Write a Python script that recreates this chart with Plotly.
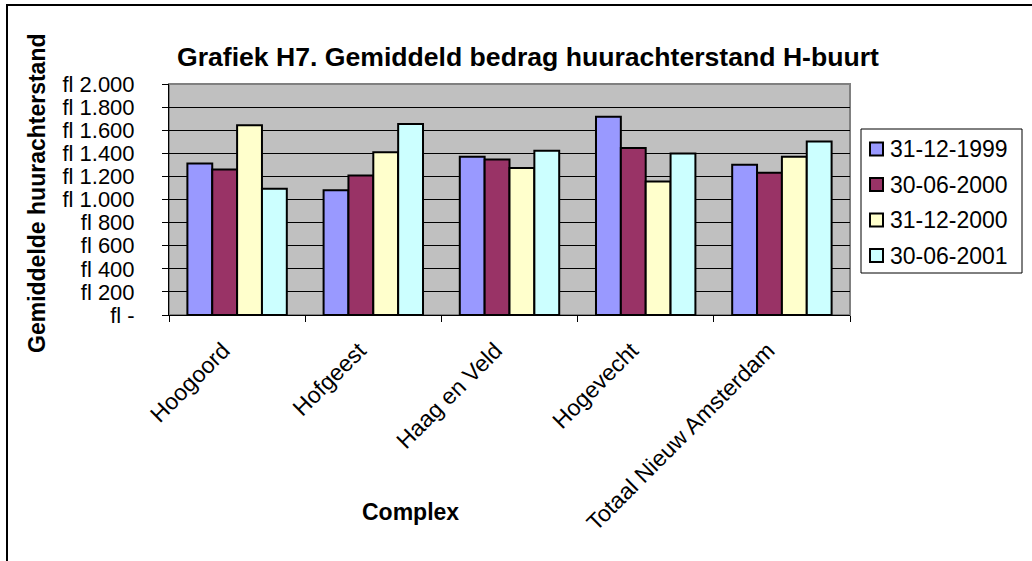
import plotly.graph_objects as go

categories = ["Hoogoord", "Hofgeest", "Haag en Veld", "Hogevecht", "Totaal Nieuw Amsterdam"]
series_names = ["31-12-1999", "30-06-2000", "31-12-2000", "30-06-2001"]
v_1999_12 = [1312, 1081, 1370, 1717, 1301]
v_2000_06 = [1260, 1208, 1347, 1445, 1231]
v_2000_12 = [1642, 1410, 1272, 1156, 1370]
v_2001_06 = [1092, 1653, 1422, 1399, 1503]
series_values = [v_1999_12, v_2000_06, v_2000_12, v_2001_06]
colors = ["#9999FF", "#993366", "#FFFFCC", "#CCFFFF"]
y_tickvals = [0, 200, 400, 600, 800, 1000, 1200, 1400, 1600, 1800, 2000]
y_ticktext = ["fl -", "fl 200", "fl 400", "fl 600", "fl 800", "fl 1.000",
              "fl 1.200", "fl 1.400", "fl 1.600", "fl 1.800", "fl 2.000"]

FONT = "Liberation Sans, Arial, sans-serif"
FS = 23

fig = go.Figure()
for name, vals, col in zip(series_names, series_values, colors):
    fig.add_trace(go.Bar(
        x=categories, y=vals, name=name, showlegend=False,
        marker=dict(color=col, line=dict(color="black", width=2)),
    ))

W, H = 1032, 561
L, R, T, B = 169, 182, 84, 246
pw, ph = W - L - R, H - T - B

def px(x):
    return (x - L) / pw

def py(y):
    return (H - B - y) / ph

shapes = [
    dict(type="rect", xref="paper", yref="paper", x0=0, x1=1, y0=0, y1=1,
         line=dict(color="#808080", width=2), layer="below"),
    dict(type="line", xref="paper", yref="paper", x0=px(7), x1=px(7),
         y0=py(5), y1=py(562), line=dict(color="black", width=2)),
    dict(type="line", xref="paper", yref="paper", x0=px(6), x1=px(1033),
         y0=py(5), y1=py(5), line=dict(color="black", width=2)),
    # legend box
    dict(type="rect", xref="paper", yref="paper", x0=px(861), x1=px(1022),
         y0=py(273), y1=py(129), line=dict(color="black", width=1),
         fillcolor="white"),
]
annotations = [
    dict(text="<b>Grafiek H7. Gemiddeld bedrag huurachterstand H-buurt</b>",
         xref="paper", yref="paper", x=px(528), y=py(57),
         xanchor="center", yanchor="middle", showarrow=False,
         font=dict(size=26.6, family=FONT)),
    dict(text="<b>Gemiddelde huurachterstand</b>",
         xref="paper", yref="paper", x=px(37), y=py(193),
         xanchor="center", yanchor="middle", showarrow=False, textangle=-90,
         font=dict(size=FS, family=FONT)),
    dict(text="<b>Complex</b>",
         xref="paper", yref="paper", x=px(410), y=py(512),
         xanchor="center", yanchor="middle", showarrow=False,
         font=dict(size=FS, family=FONT)),
]
row_y = [149, 184.5, 220, 255.5]
for name, col, ry in zip(series_names, colors, row_y):
    shapes.append(dict(type="rect", xref="paper", yref="paper",
                       x0=px(870), x1=px(883), y0=py(ry + 6.5), y1=py(ry - 6.5),
                       line=dict(color="black", width=2), fillcolor=col))
    annotations.append(dict(text=name, xref="paper", yref="paper",
                            x=px(888), y=py(ry), xanchor="left", yanchor="middle",
                            showarrow=False, font=dict(size=FS, family=FONT)))

fig.update_layout(
    width=W, height=H,
    margin=dict(l=L, r=R, t=T, b=B, pad=0),
    paper_bgcolor="white",
    plot_bgcolor="#C0C0C0",
    barmode="group", bargap=0.27, bargroupgap=0,
    font=dict(family=FONT, color="black", size=FS),
    showlegend=False,
    xaxis=dict(
        showline=True, linecolor="black", linewidth=1,
        ticks="outside", tickson="boundaries", ticklen=6, tickcolor="black",
        tickangle=-45, tickfont=dict(size=FS, family=FONT),
        ticklabelstandoff=12, ticklabelshift=-14,
        showgrid=False, automargin=False,
    ),
    yaxis=dict(
        range=[0, 2000], tickvals=y_tickvals, ticktext=y_ticktext,
        showline=True, linecolor="black", linewidth=1,
        ticks="outside", ticklen=6, tickcolor="black",
        ticklabelstandoff=23,
        showgrid=True, gridcolor="black", gridwidth=1,
        zeroline=False, tickfont=dict(size=22, family=FONT), automargin=False,
    ),
    shapes=shapes,
    annotations=annotations,
)

fig.write_html("out.html", config={"displayModeBar": False},
               post_script="document.body.style.margin='0';document.body.style.overflow='hidden';")
